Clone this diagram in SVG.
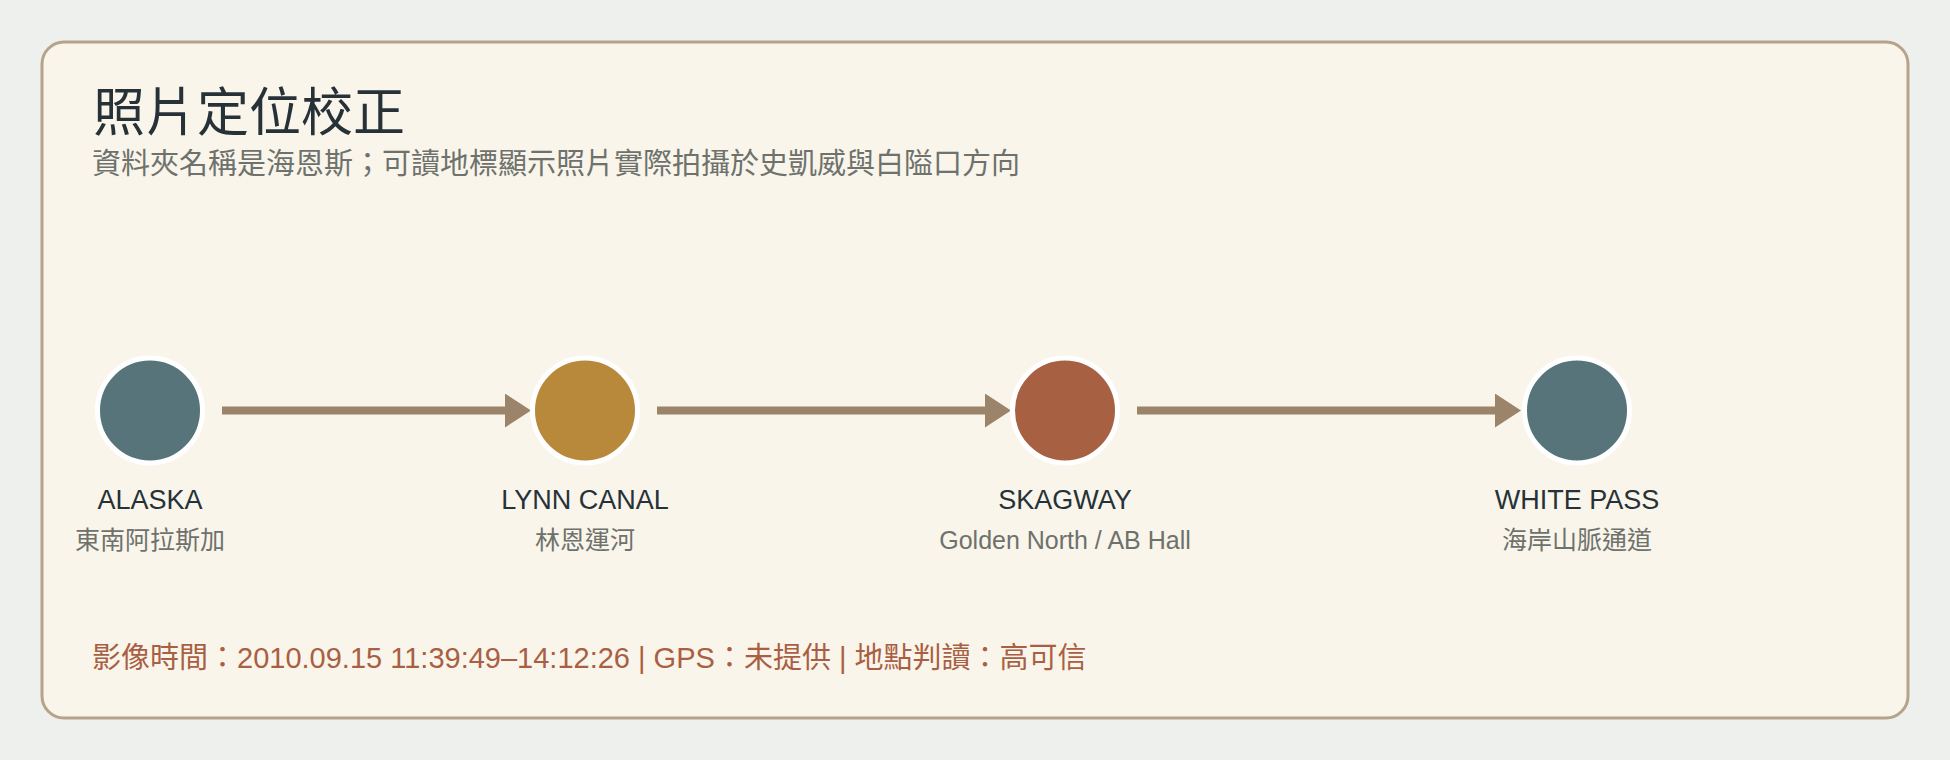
<svg xmlns="http://www.w3.org/2000/svg" width="1950" height="760" viewBox="0 0 1950 760" xml:lang="zh-Hant" lang="zh-Hant">
  <style>
    text { font-family: "Liberation Sans", "Noto Sans CJK TC", sans-serif; }
    .cjk { font-family: "Noto Sans CJK TC", sans-serif; }
    .title { font-size: 52px; fill: #263238; font-weight: normal; }
    .subtitle { font-size: 29px; fill: #6e716c; }
    .name { font-size: 27px; fill: #263238; text-anchor: middle; }
    .sub { font-size: 25px; fill: #6e716c; text-anchor: middle; }
    .footer { font-size: 29px; fill: #a95f43; }
    .dot { stroke: #ffffff; stroke-width: 5; }
    .edge { stroke: #9c846b; stroke-width: 8; fill: none; }
  </style>
  <defs>
    <marker id="arrow" markerUnits="userSpaceOnUse" markerWidth="26" markerHeight="34" viewBox="0 0 26 34" refX="2" refY="17" orient="auto">
      <path d="M0,0 L26,17 L0,34 Z" fill="#9c846b"/>
    </marker>
  </defs>
  <rect x="0" y="0" width="1950" height="760" fill="#eef0ed"/>
  <rect x="42" y="42" width="1866" height="676" rx="22" ry="22" fill="#f9f5ea" stroke="#b6a48a" stroke-width="3"/>
  <g id="header">
    <text class="title" x="93" y="131">照片定位校正</text>
    <text class="subtitle" x="92" y="174">資料夾名稱是海恩斯<tspan class="cjk">；</tspan>可讀地標顯示照片實際拍攝於史凱威與白隘口方向</text>
  </g>
  <g id="connectors">
    <line class="edge" x1="222" y1="410.5" x2="507" y2="410.5" marker-end="url(#arrow)"/>
    <line class="edge" x1="657" y1="410.5" x2="987" y2="410.5" marker-end="url(#arrow)"/>
    <line class="edge" x1="1137" y1="410.5" x2="1497" y2="410.5" marker-end="url(#arrow)"/>
  </g>
  <g id="node-alaska">
    <circle class="dot" cx="150" cy="410.5" r="52.5" fill="#567479"/>
    <text class="name" x="150" y="509">ALASKA</text>
    <text class="sub" x="150" y="549">東南阿拉斯加</text>
  </g>
  <g id="node-lynn-canal">
    <circle class="dot" cx="585" cy="410.5" r="52.5" fill="#b8893b"/>
    <text class="name" x="585" y="509">LYNN CANAL</text>
    <text class="sub" x="585" y="549">林恩運河</text>
  </g>
  <g id="node-skagway">
    <circle class="dot" cx="1065" cy="410.5" r="52.5" fill="#a86043"/>
    <text class="name" x="1065" y="509">SKAGWAY</text>
    <text class="sub" x="1065" y="549">Golden North / AB Hall</text>
  </g>
  <g id="node-white-pass">
    <circle class="dot" cx="1577" cy="410.5" r="52.5" fill="#567479"/>
    <text class="name" x="1577" y="509">WHITE PASS</text>
    <text class="sub" x="1577" y="549">海岸山脈通道</text>
  </g>
  <g id="footer">
    <text class="footer" x="92" y="668">影像時間<tspan class="cjk">：</tspan>2010.09.15 11:39:49–14:12:26 | GPS<tspan class="cjk">：</tspan>未提供 | 地點判讀<tspan class="cjk">：</tspan>高可信</text>
  </g>
</svg>
